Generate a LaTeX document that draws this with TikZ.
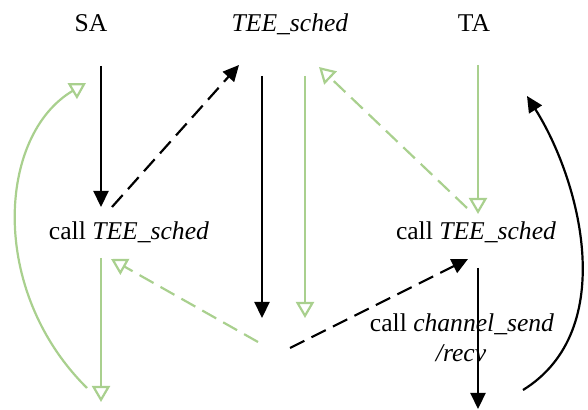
\documentclass[tikz,border=0pt]{standalone}
\usepackage{fontspec}
\setmainfont{Liberation Serif}
\usetikzlibrary{arrows.meta}
\definecolor{lgreen}{RGB}{169,208,142}

\begin{document}
\begin{tikzpicture}[x=0.5pt,y=-0.5pt,
		blk/.style={line width=1.1pt,-{Triangle[length=8pt,width=7.5pt]}},
		grn/.style={lgreen,line width=1.1pt,-{Triangle[open,length=8pt,width=9pt]}},
		dsh/.style={dash pattern=on 8pt off 4pt},
		lbl/.style={font=\fontsize{12.8}{15}\selectfont,inner sep=0pt,anchor=base}]
		\useasboundingbox (0,0) rectangle (588,410);
		% headers
		\node[lbl] (sa) at (91,32){SA};
		\node[lbl] (sched) at (290,32){\textit{TEE\_sched}};
		\node[lbl] (ta) at (474,32){TA};
		\node[lbl] (callL) at (129,240){call \textit{TEE\_sched}};
		\node[lbl] (callR) at (476,240){call \textit{TEE\_sched}};
		\node[lbl] (chan) at (462,332){call \textit{channel\_send}};
		\node[lbl] (recv) at (461,362){\textit{/recv}};
		% end points of the arrows
		\coordinate (sa1) at (101,66);   \coordinate (sa2) at (101,207);
		\coordinate (j1) at (112,207);   \coordinate (j2) at (239,65);
		\coordinate (k1) at (262,76);    \coordinate (k2) at (262,318);
		\coordinate (g1) at (305,76);    \coordinate (g2) at (305,318);
		\coordinate (r1) at (467,208);   \coordinate (r2) at (319,67);
		\coordinate (ta1) at (478,65);   \coordinate (ta2) at (478,214);
		\coordinate (m1) at (290,348);   \coordinate (m2) at (468,259);
		\coordinate (n1) at (258,342);   \coordinate (n2) at (111,259);
		\coordinate (sb1) at (101,258);  \coordinate (sb2) at (101,402);
		\coordinate (tb1) at (478,268);  \coordinate (tb2) at (478,409);
		\coordinate (lc1) at (87,388);   \coordinate (lc2) at (86,83);
		\coordinate (rc1) at (523,390);  \coordinate (rc2) at (527,96);
		% SA side
		\draw[blk] (sa1) -- (sa2);
		\draw[blk,dsh] (j1) -- (j2);
		\draw[grn] (sb1) -- (sb2);
		\draw[grn] (lc1) .. controls (-12,290) and (-2,135) .. (lc2);
		% TEE_sched column
		\draw[blk] (k1) -- (k2);
		\draw[grn] (g1) -- (g2);
		\draw[grn,dsh] (n1) -- (n2);
		\draw[blk,dsh] (m1) -- (m2);
		% TA side
		\draw[grn] (ta1) -- (ta2);
		\draw[grn,dsh] (r1) -- (r2);
		\draw[blk] (tb1) -- (tb2);
		\draw[blk] (rc1) .. controls (620,330) and (580,180) .. (rc2);
	\end{tikzpicture}
\end{document}
